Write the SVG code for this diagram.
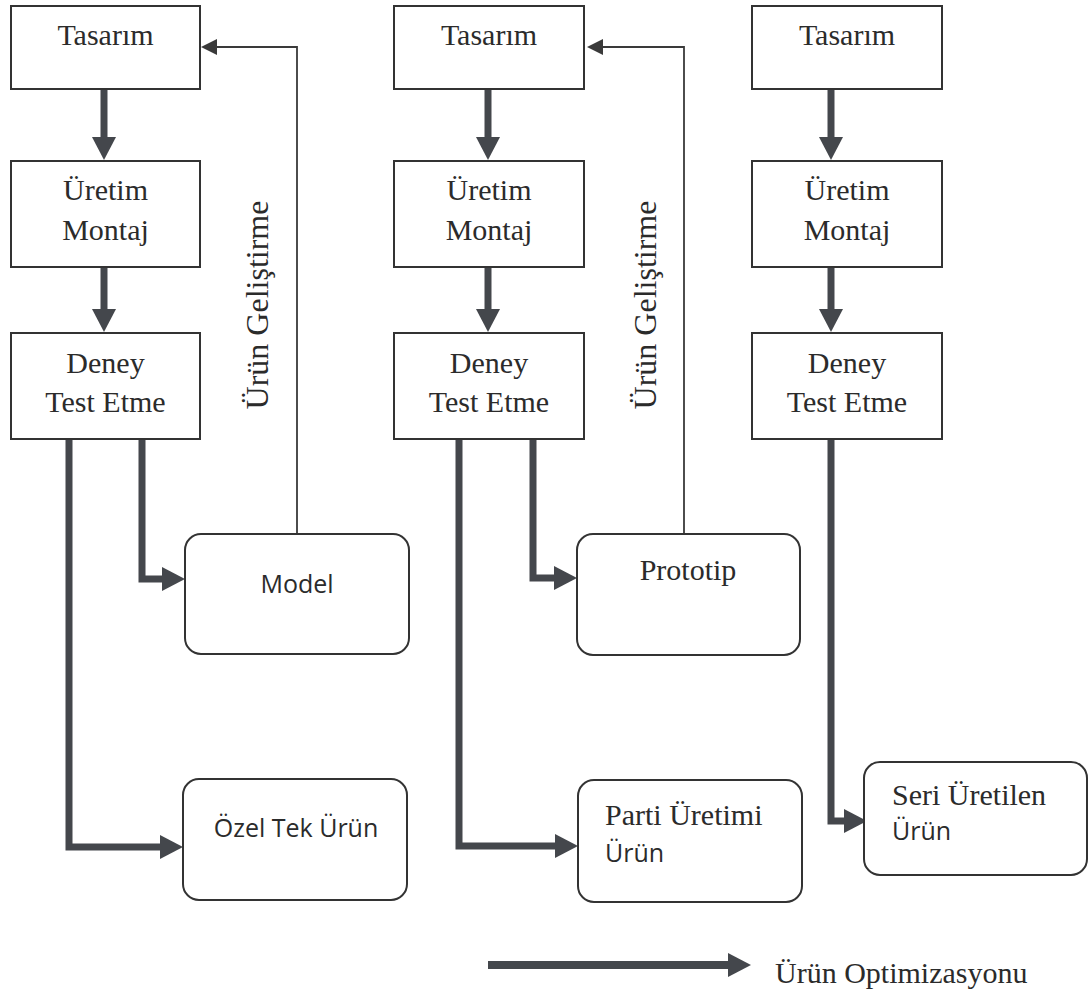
<svg xmlns="http://www.w3.org/2000/svg" width="1089" height="994" viewBox="0 0 1089 994">
  <style>
    .box { fill: #fff; stroke: #333; stroke-width: 2; }
    .serif { font-family: "Liberation Serif", "Times New Roman", serif; font-size: 30px; fill: #2b2b2b; }
    .side { font-size: 32px; }
    .sans { font-family: "Open Sans", "Noto Sans", sans-serif; font-size: 25px; fill: #2b2b2b; }
    .mid { text-anchor: middle; }
    .thick { fill: none; stroke: #44474c; stroke-width: 7; stroke-linejoin: miter; }
    .thin { fill: none; stroke: #3a3a3a; stroke-width: 1.8; }
  </style>
  <defs>
    <marker id="headDown" markerUnits="userSpaceOnUse" viewBox="0 0 24 24" markerWidth="24" markerHeight="24" refX="0" refY="12" orient="auto">
      <path d="M0,0 L23,12 L0,24 Z" fill="#44474c"/>
    </marker>
    <marker id="headThin" markerUnits="userSpaceOnUse" viewBox="0 0 16 16" markerWidth="16" markerHeight="16" refX="0" refY="8" orient="auto">
      <path d="M0,0 L16,8 L0,16 Z" fill="#3a3a3a"/>
    </marker>
  </defs>
  <rect width="1089" height="994" fill="#fff"/>

  <g id="connectors">
    <!-- column 1 -->
    <line class="thick" x1="104" y1="89" x2="104" y2="137" marker-end="url(#headDown)"/>
    <line class="thick" x1="104" y1="267" x2="104" y2="309" marker-end="url(#headDown)"/>
    <path class="thick" d="M69,439 V847 H160" marker-end="url(#headDown)"/>
    <path class="thick" d="M142,439 V579 H162" marker-end="url(#headDown)"/>
    <path class="thin" d="M297,534 V47 H217" marker-end="url(#headThin)"/>
    <!-- column 2 -->
    <line class="thick" x1="488" y1="89" x2="488" y2="137" marker-end="url(#headDown)"/>
    <line class="thick" x1="488" y1="267" x2="488" y2="309" marker-end="url(#headDown)"/>
    <path class="thick" d="M459,439 V846 H555" marker-end="url(#headDown)"/>
    <path class="thick" d="M533,439 V578 H554" marker-end="url(#headDown)"/>
    <path class="thin" d="M684,534 V47 H603" marker-end="url(#headThin)"/>
    <!-- column 3 -->
    <line class="thick" x1="831" y1="89" x2="831" y2="137" marker-end="url(#headDown)"/>
    <line class="thick" x1="831" y1="267" x2="831" y2="309" marker-end="url(#headDown)"/>
    <path class="thick" d="M831,439 V821 H844" marker-end="url(#headDown)"/>
    <!-- legend -->
    <line x1="488" y1="965" x2="728" y2="965" stroke="#44474c" stroke-width="8" marker-end="url(#headDown)"/>
  </g>

  <!-- column 1 -->
  <g id="tasarim1">
    <rect class="box" x="11" y="6" width="189" height="83"/>
    <text class="serif mid" x="105.5" y="45">Tasarım</text>
  </g>
  <g id="uretim1">
    <rect class="box" x="11" y="161" width="189" height="106"/>
    <text class="serif mid" x="105.5" y="200">Üretim</text>
    <text class="serif mid" x="105.5" y="240">Montaj</text>
  </g>
  <g id="deney1">
    <rect class="box" x="11" y="333" width="189" height="106"/>
    <text class="serif mid" x="105.5" y="373">Deney</text>
    <text class="serif mid" x="105.5" y="412">Test Etme</text>
  </g>
  <g id="model">
    <rect class="box" x="185" y="534" width="224" height="120" rx="16"/>
    <text class="sans mid" x="297" y="593">Model</text>
  </g>
  <g id="ozel">
    <rect class="box" x="183" y="779" width="224" height="121" rx="16"/>
    <text class="sans mid" x="296" y="837">Özel Tek Ürün</text>
  </g>
  <g id="gelistirme1">
    <text class="serif side mid" transform="translate(268,305) rotate(-90)">Ürün Geliştirme</text>
  </g>

  <!-- column 2 -->
  <g id="tasarim2">
    <rect class="box" x="394" y="6" width="190" height="83"/>
    <text class="serif mid" x="489" y="45">Tasarım</text>
  </g>
  <g id="uretim2">
    <rect class="box" x="394" y="161" width="190" height="106"/>
    <text class="serif mid" x="489" y="200">Üretim</text>
    <text class="serif mid" x="489" y="240">Montaj</text>
  </g>
  <g id="deney2">
    <rect class="box" x="394" y="333" width="190" height="106"/>
    <text class="serif mid" x="489" y="373">Deney</text>
    <text class="serif mid" x="489" y="412">Test Etme</text>
  </g>
  <g id="prototip">
    <rect class="box" x="577" y="534" width="223" height="121" rx="16"/>
    <text class="serif mid" x="688" y="580">Prototip</text>
  </g>
  <g id="parti">
    <rect class="box" x="578" y="780" width="224" height="122" rx="16"/>
    <text class="serif" x="605" y="825">Parti Üretimi</text>
    <text class="sans" x="605" y="862">Ürün</text>
  </g>
  <g id="gelistirme2">
    <text class="serif side mid" transform="translate(656,305) rotate(-90)">Ürün Geliştirme</text>
  </g>

  <!-- column 3 -->
  <g id="tasarim3">
    <rect class="box" x="752" y="6" width="190" height="83"/>
    <text class="serif mid" x="847" y="45">Tasarım</text>
  </g>
  <g id="uretim3">
    <rect class="box" x="752" y="161" width="190" height="106"/>
    <text class="serif mid" x="847" y="200">Üretim</text>
    <text class="serif mid" x="847" y="240">Montaj</text>
  </g>
  <g id="deney3">
    <rect class="box" x="752" y="333" width="190" height="106"/>
    <text class="serif mid" x="847" y="373">Deney</text>
    <text class="serif mid" x="847" y="412">Test Etme</text>
  </g>
  <g id="seri">
    <rect class="box" x="864" y="762" width="223" height="113" rx="16"/>
    <text class="serif" x="892" y="805">Seri Üretilen</text>
    <text class="sans" x="892" y="840">Ürün</text>
  </g>

  <!-- legend -->
  <g id="legend">
    <text class="serif" x="775" y="983">Ürün Optimizasyonu</text>
  </g>
</svg>
